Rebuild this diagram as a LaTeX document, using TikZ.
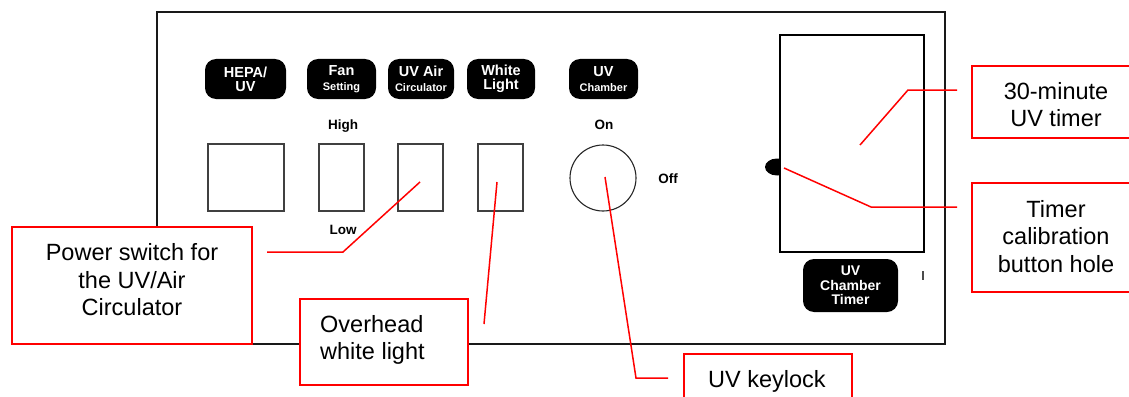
\documentclass[tikz,border=0pt]{standalone}
\usepackage{fontspec}
\setmainfont{Liberation Sans}
\usetikzlibrary{shapes.geometric}
\begin{document}
\begin{tikzpicture}[x=1pt,y=-1pt,
  lbl/.style={fill=black, text=white, rounded corners=11pt, inner sep=0pt, align=center,
    font=\bfseries\fontsize{14.5}{14}\selectfont},
  swbox/.style={draw=black!75, line width=1.1pt, fill=white, inner sep=0pt},
  cbox/.style={draw=red, line width=1.8pt, fill=white, inner sep=0pt},
  ctext/.style={inner sep=0pt, align=center, font=\fontsize{23.5}{27.5}\selectfont},
  leader/.style={red, line width=1.5pt},
  tag/.style={inner sep=0pt, anchor=base, font=\bfseries\fontsize{13.5}{14}\selectfont}]
\useasboundingbox (0,0) rectangle (1129,396);
% panel
\draw[line width=1.5pt, black!90] (157,12) rectangle (945,344);
% labels
\node[lbl, minimum width=81pt, minimum height=40pt] (lhepa) at (245.5,79) {HEPA/\\UV};
\node[lbl, minimum width=69pt, minimum height=40pt] (lfan) at (341.5,79) {Fan\\[1pt]{\fontsize{11}{12}\selectfont Setting}};
\node[lbl, minimum width=66pt, minimum height=40pt] (luvair) at (421,79) {UV Air\\[1pt]{\fontsize{11}{12}\selectfont Circulator}};
\node[lbl, minimum width=68pt, minimum height=40pt] (lwhite) at (501,79) {White\\Light};
\node[lbl, minimum width=69pt, minimum height=40pt] (luvch) at (603.5,79) {UV\\[1pt]{\fontsize{11}{12}\selectfont Chamber}};
\node[lbl, minimum width=95pt, minimum height=53pt, font=\bfseries\fontsize{14}{14.5}\selectfont] (ltimer) at (850.5,285.5) {UV\\Chamber\\Timer};
% tags
\node[tag] (high) at (343,129) {High};
\node[tag] (low) at (343,234) {Low};
\node[tag] (on) at (604,129) {On};
\node[tag] (off) at (668,183) {Off};
% switches
\node[swbox, minimum width=76pt, minimum height=67pt] (swhepa) at (246,177.5) {};
\node[swbox, minimum width=45pt, minimum height=67pt] (swfan) at (341.5,177.5) {};
\node[swbox, minimum width=45pt, minimum height=67pt] (swuvair) at (420.5,177.5) {};
\node[swbox, minimum width=45pt, minimum height=67pt] (swwhite) at (500.5,177.5) {};
\node[draw=black!85, line width=1.1pt, circle, minimum size=66pt, inner sep=0pt] (keylock) at (603,178) {};
% timer
\node[ellipse, fill=black, minimum width=24pt, minimum height=17pt, inner sep=0pt] (hole) at (777,167) {};
\node[draw=black, line width=2pt, fill=white, minimum width=144pt, minimum height=217pt, inner sep=0pt] (timer) at (852,143.5) {};
\draw[line width=1.2pt, black!70] (923,271) -- (923,280);
% callout boxes
\node[cbox, minimum width=240pt, minimum height=117pt] (bpwr) at (132,285.5) {};
\node[ctext] (tpwr) at (132,280) {Power switch for\\the UV/Air\\Circulator};
\node[cbox, minimum width=168pt, minimum height=86pt] (bovh) at (384,342) {};
\node[ctext, anchor=west, align=left] (tovh) at (320,340) {Overhead\\white light};
\node[cbox, minimum width=168pt, minimum height=70pt] (bkey) at (768,389) {};
\node[ctext, anchor=base] (tkey) at (767,387) {UV keylock};
\node[cbox, minimum width=170pt, minimum height=72pt] (b30) at (1057,102) {};
\node[ctext] (t30) at (1056,104.5) {30-minute\\UV timer};
\node[cbox, minimum width=170pt, minimum height=109pt] (bcal) at (1057,237.5) {};
\node[ctext] (tcal) at (1056,236.5) {Timer\\calibration\\button hole};
% leader coordinates
\coordinate (pA) at (420,182); \coordinate (pB) at (343,252); \coordinate (pE) at (267,252);
\coordinate (oA) at (497,182); \coordinate (oE) at (484,324);
\coordinate (kA) at (605,177); \coordinate (kB) at (636,378); \coordinate (kE) at (668,378);
\coordinate (mA) at (860,145); \coordinate (mB) at (908,90); \coordinate (mE) at (957,90);
\coordinate (cA) at (784,168); \coordinate (cB) at (871,207); \coordinate (cE) at (957,207);
\draw[leader] (pA) -- (pB) -- (pE);
\draw[leader] (oA) -- (oE);
\draw[leader] (kA) -- (kB) -- (kE);
\draw[leader] (mA) -- (mB) -- (mE);
\draw[leader] (cA) -- (cB) -- (cE);
\end{tikzpicture}
\end{document}
